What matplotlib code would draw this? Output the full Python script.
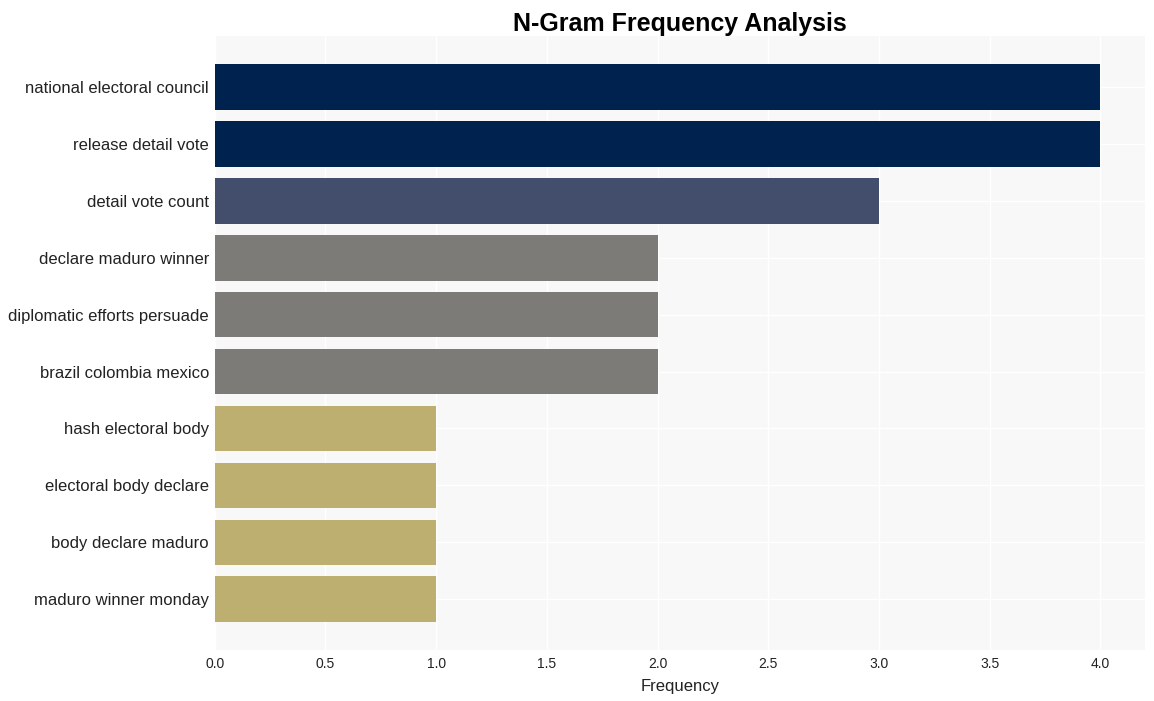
import matplotlib
matplotlib.use("Agg")
import matplotlib.pyplot as plt

plt.rcParams['font.family'] = ['Liberation Sans', 'DejaVu Sans']

ngrams = ["national electoral council", "release detail vote", "detail vote count",
          "declare maduro winner", "diplomatic efforts persuade", "brazil colombia mexico",
          "hash electoral body", "electoral body declare", "body declare maduro",
          "maduro winner monday"]
counts = [4, 4, 3, 2, 2, 2, 1, 1, 1, 1]
colors = {4: "#00224e", 3: "#434e6c", 2: "#7c7b78", 1: "#bcaf6f"}

fig, ax = plt.subplots(figsize=(11.54, 7.01), dpi=100)
fig.subplots_adjust(left=0.186, right=0.992, top=0.948, bottom=0.073)
ax.set_facecolor("#f8f8f8")

ypos = list(range(len(ngrams)))
ax.barh(ypos, counts, height=0.8, color=[colors[c] for c in counts], zorder=2)
ax.set_yticks(ypos)
ax.set_yticklabels(ngrams, fontsize=12, color="#222222")
ax.invert_yaxis()
ax.set_xlim(0, 4.2)
ax.set_xticks([0, 0.5, 1, 1.5, 2, 2.5, 3, 3.5, 4])
ax.set_xticklabels(["0.0", "0.5", "1.0", "1.5", "2.0", "2.5", "3.0", "3.5", "4.0"])
ax.tick_params(axis="x", labelsize=10, colors="#222222", length=0, pad=5)
ax.tick_params(axis="y", length=0, pad=4)
ax.grid(True, color="white", linewidth=1, zorder=0)
ax.set_axisbelow(True)
for s in ax.spines.values():
    s.set_visible(False)

ax.set_xlabel("Frequency", fontsize=12, color="#222222", labelpad=6)
ax.set_title("N-Gram Frequency Analysis", fontsize=18, fontweight="bold", pad=4)

fig.savefig("out.png", dpi=100)
